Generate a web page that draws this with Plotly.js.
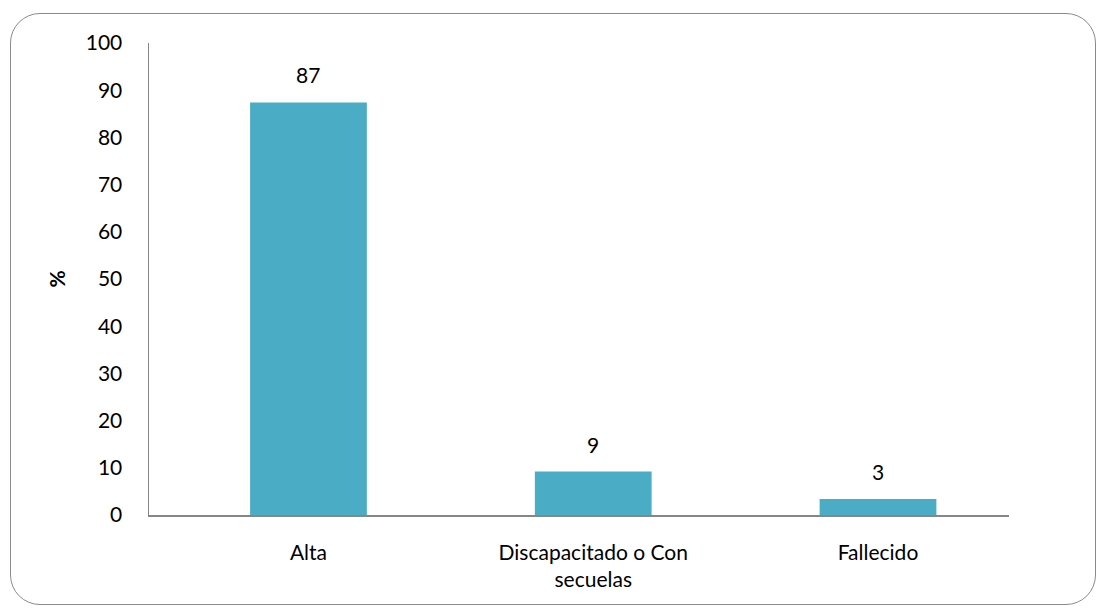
<!DOCTYPE html>
<html>
<head>
<meta charset="utf-8">
<script src="https://cdn.plot.ly/plotly-3.0.1.min.js"></script>
<style>
  html, body { margin: 0; padding: 0; background: #ffffff; }
  #wrap { position: relative; width: 1101px; height: 608px; }
  #chart { width: 1101px; height: 608px; }
  #frame {
    position: absolute; left: 10px; top: 13px; width: 1086px; height: 592px;
    border: 1.5px solid #8a8a8a; border-radius: 30px; box-sizing: border-box;
    pointer-events: none;
  }
</style>
</head>
<body>
<div id="wrap">
  <div id="chart"></div>
  <div id="frame"></div>
</div>
<script>
const categories = ["Alta", "Discapacitado o Con<br>secuelas", "Fallecido"];
const values = [87.4, 9.2, 3.4];
const valueLabels = ["87", "9", "3"];
const yTicks = [0, 10, 20, 30, 40, 50, 60, 70, 80, 90, 100];

const font = { family: "Lato, 'Open Sans', sans-serif", size: 21, color: "#000000" };

const trace = {
  type: "bar",
  x: categories,
  y: values,
  marker: { color: "#4BACC6" },
  width: 0.41,
  hoverinfo: "none"
};

const annotations = categories.map((c, i) => ({
  x: c, y: values[i], text: valueLabels[i],
  xref: "x", yref: "y", showarrow: false,
  yanchor: "bottom", yshift: 13, font: font
}));

const layout = {
  width: 1101, height: 608,
  margin: { l: 149, r: 92, t: 43, b: 93 },
  paper_bgcolor: "#ffffff", plot_bgcolor: "#ffffff",
  font: font,
  showlegend: false,
  xaxis: {
    type: "category",
    range: [-0.56, 2.46],
    showline: true, linecolor: "#868686", linewidth: 1.5,
    ticks: "", showgrid: false, zeroline: false,
    ticklabelstandoff: 18,
    tickfont: font
  },
  yaxis: {
    range: [0, 100],
    tickvals: yTicks,
    showline: true, linecolor: "#868686", linewidth: 1.5,
    ticks: "", showgrid: false, zeroline: false,
    ticklabelstandoff: 21,
    tickfont: font,
    title: { text: "<b>%</b>", font: font, standoff: 14 }
  },
  annotations: annotations
};

Plotly.newPlot("chart", [trace], layout, { displayModeBar: false, staticPlot: true });
</script>
</body>
</html>
